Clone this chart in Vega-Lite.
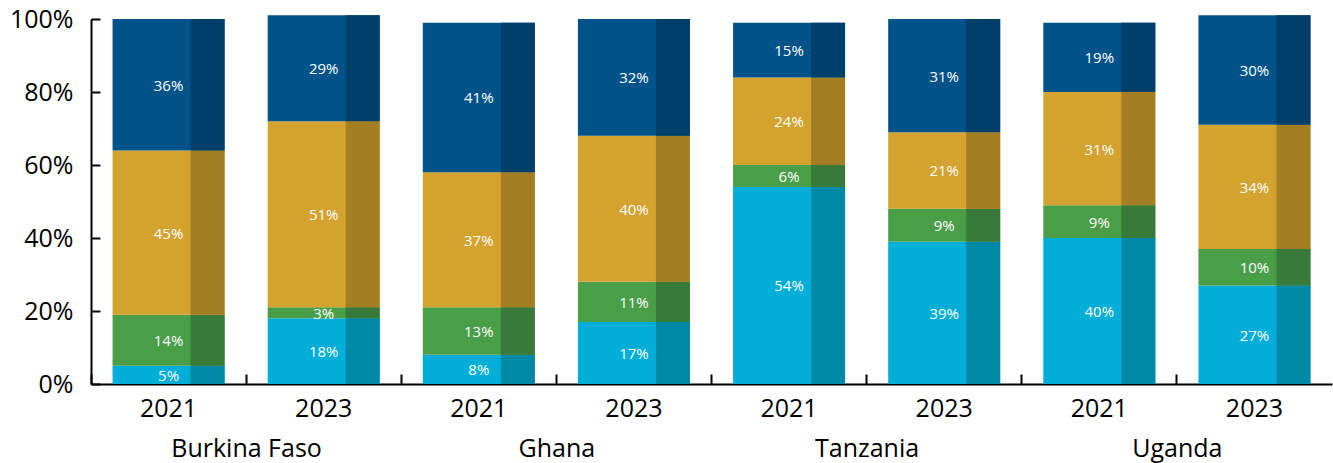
{
  "$schema": "https://vega.github.io/schema/vega-lite/v6.json",
  "width": 1333,
  "height": 463,
  "autosize": {"type": "fit", "contains": "padding"},
  "padding": {"left": 9, "right": 1, "top": 7, "bottom": 2},
  "background": "white",
  "config": {"view": {"stroke": null}, "font": "Open Sans"},
  "data": {
    "values": [
      {"country": "Burkina Faso", "year": "2021", "bar": "Burkina Faso 2021", "seg": "S1", "k": 1, "value": 0.05},
      {"country": "Burkina Faso", "year": "2021", "bar": "Burkina Faso 2021", "seg": "S2", "k": 2, "value": 0.14},
      {"country": "Burkina Faso", "year": "2021", "bar": "Burkina Faso 2021", "seg": "S3", "k": 3, "value": 0.45},
      {"country": "Burkina Faso", "year": "2021", "bar": "Burkina Faso 2021", "seg": "S4", "k": 4, "value": 0.36},
      {"country": "Burkina Faso", "year": "2023", "bar": "Burkina Faso 2023", "seg": "S1", "k": 1, "value": 0.18},
      {"country": "Burkina Faso", "year": "2023", "bar": "Burkina Faso 2023", "seg": "S2", "k": 2, "value": 0.03},
      {"country": "Burkina Faso", "year": "2023", "bar": "Burkina Faso 2023", "seg": "S3", "k": 3, "value": 0.51},
      {"country": "Burkina Faso", "year": "2023", "bar": "Burkina Faso 2023", "seg": "S4", "k": 4, "value": 0.29},
      {"country": "Ghana", "year": "2021", "bar": "Ghana 2021", "seg": "S1", "k": 1, "value": 0.08},
      {"country": "Ghana", "year": "2021", "bar": "Ghana 2021", "seg": "S2", "k": 2, "value": 0.13},
      {"country": "Ghana", "year": "2021", "bar": "Ghana 2021", "seg": "S3", "k": 3, "value": 0.37},
      {"country": "Ghana", "year": "2021", "bar": "Ghana 2021", "seg": "S4", "k": 4, "value": 0.41},
      {"country": "Ghana", "year": "2023", "bar": "Ghana 2023", "seg": "S1", "k": 1, "value": 0.17},
      {"country": "Ghana", "year": "2023", "bar": "Ghana 2023", "seg": "S2", "k": 2, "value": 0.11},
      {"country": "Ghana", "year": "2023", "bar": "Ghana 2023", "seg": "S3", "k": 3, "value": 0.40},
      {"country": "Ghana", "year": "2023", "bar": "Ghana 2023", "seg": "S4", "k": 4, "value": 0.32},
      {"country": "Tanzania", "year": "2021", "bar": "Tanzania 2021", "seg": "S1", "k": 1, "value": 0.54},
      {"country": "Tanzania", "year": "2021", "bar": "Tanzania 2021", "seg": "S2", "k": 2, "value": 0.06},
      {"country": "Tanzania", "year": "2021", "bar": "Tanzania 2021", "seg": "S3", "k": 3, "value": 0.24},
      {"country": "Tanzania", "year": "2021", "bar": "Tanzania 2021", "seg": "S4", "k": 4, "value": 0.15},
      {"country": "Tanzania", "year": "2023", "bar": "Tanzania 2023", "seg": "S1", "k": 1, "value": 0.39},
      {"country": "Tanzania", "year": "2023", "bar": "Tanzania 2023", "seg": "S2", "k": 2, "value": 0.09},
      {"country": "Tanzania", "year": "2023", "bar": "Tanzania 2023", "seg": "S3", "k": 3, "value": 0.21},
      {"country": "Tanzania", "year": "2023", "bar": "Tanzania 2023", "seg": "S4", "k": 4, "value": 0.31},
      {"country": "Uganda", "year": "2021", "bar": "Uganda 2021", "seg": "S1", "k": 1, "value": 0.40},
      {"country": "Uganda", "year": "2021", "bar": "Uganda 2021", "seg": "S2", "k": 2, "value": 0.09},
      {"country": "Uganda", "year": "2021", "bar": "Uganda 2021", "seg": "S3", "k": 3, "value": 0.31},
      {"country": "Uganda", "year": "2021", "bar": "Uganda 2021", "seg": "S4", "k": 4, "value": 0.19},
      {"country": "Uganda", "year": "2023", "bar": "Uganda 2023", "seg": "S1", "k": 1, "value": 0.27},
      {"country": "Uganda", "year": "2023", "bar": "Uganda 2023", "seg": "S2", "k": 2, "value": 0.10},
      {"country": "Uganda", "year": "2023", "bar": "Uganda 2023", "seg": "S3", "k": 3, "value": 0.34},
      {"country": "Uganda", "year": "2023", "bar": "Uganda 2023", "seg": "S4", "k": 4, "value": 0.30}
    ]
  },
  "transform": [
    {"stack": "value", "groupby": ["bar"], "sort": [{"field": "k", "order": "ascending"}], "as": ["v0", "v1"]},
    {"calculate": "(datum.v0 + datum.v1) / 2", "as": "mid"}
  ],
  "layer": [
    {
      "mark": {"type": "bar", "width": 112},
      "encoding": {
        "x": {
          "field": "bar", "type": "nominal",
          "sort": ["Burkina Faso 2021", "Burkina Faso 2023", "Ghana 2021", "Ghana 2023", "Tanzania 2021", "Tanzania 2023", "Uganda 2021", "Uganda 2023"],
          "scale": {"paddingInner": 0, "paddingOuter": 0},
          "axis": {
            "orient": "bottom", "title": null, "labelAngle": 0,
            "labelExpr": "substring(datum.label, length(datum.label) - 4)",
            "ticks": false, "domainColor": "black", "domainWidth": 2,
            "labelFontSize": 25, "labelColor": "black", "labelPadding": 12
          }
        },
        "y": {
          "field": "v0", "type": "quantitative",
          "scale": {"domain": [0, 1], "nice": false},
          "axis": {
            "orient": "left", "title": null, "format": ".0%", "values": [0, 0.2, 0.4, 0.6, 0.8, 1],
            "grid": false, "ticks": false,
            "domainColor": "black", "domainWidth": 2,
            "labelFontSize": 25, "labelColor": "black", "labelPadding": 18
          }
        },
        "y2": {"field": "v1"},
        "color": {
          "field": "seg", "type": "nominal", "legend": null,
          "scale": {"domain": ["S1", "S2", "S3", "S4"], "range": ["#00AED8", "#4A9E48", "#D4A22F", "#005389"]}
        }
      }
    },
    {
      "mark": {"type": "bar", "width": 34, "xOffset": 39},
      "encoding": {
        "x": {
          "field": "bar", "type": "nominal",
          "sort": ["Burkina Faso 2021", "Burkina Faso 2023", "Ghana 2021", "Ghana 2023", "Tanzania 2021", "Tanzania 2023", "Uganda 2021", "Uganda 2023"],
          "scale": {"paddingInner": 0, "paddingOuter": 0},
          "axis": null
        },
        "y": {"field": "v0", "type": "quantitative", "axis": null},
        "y2": {"field": "v1"},
        "color": {
          "field": "seg", "type": "nominal", "legend": null,
          "scale": {"domain": ["S1", "S2", "S3", "S4"], "range": ["#0088A7", "#387A3A", "#A47E23", "#003F69"]}
        }
      }
    },
    {
      "mark": {"type": "text", "color": "white", "fontSize": 15, "dy": 1},
      "encoding": {
        "x": {
          "field": "bar", "type": "nominal",
          "sort": ["Burkina Faso 2021", "Burkina Faso 2023", "Ghana 2021", "Ghana 2023", "Tanzania 2021", "Tanzania 2023", "Uganda 2021", "Uganda 2023"],
          "scale": {"paddingInner": 0, "paddingOuter": 0},
          "axis": null
        },
        "y": {"field": "mid", "type": "quantitative", "axis": null},
        "text": {"field": "value", "type": "quantitative", "format": ".0%"}
      }
    },
    {
      "mark": {"type": "rule", "opacity": 0},
      "encoding": {
        "x": {
          "field": "bar", "type": "nominal",
          "sort": ["Burkina Faso 2021", "Burkina Faso 2023", "Ghana 2021", "Ghana 2023", "Tanzania 2021", "Tanzania 2023", "Uganda 2021", "Uganda 2023"],
          "scale": {"paddingInner": 0, "paddingOuter": 0},
          "axis": {
            "orient": "bottom", "title": null, "labels": false, "domain": false,
            "bandPosition": 0, "offset": -10, "tickSize": 10, "tickWidth": 2, "tickColor": "black"
          }
        }
      }
    },
    {
      "mark": {"type": "rule", "opacity": 0},
      "encoding": {
        "y": {
          "field": "v0", "type": "quantitative",
          "axis": {
            "orient": "left", "title": null, "labels": false, "domain": false, "grid": false,
            "values": [0, 0.2, 0.4, 0.6, 0.8, 1],
            "offset": -9, "tickSize": 9, "tickWidth": 2, "tickColor": "black"
          }
        }
      }
    },
    {
      "mark": {"type": "rule", "opacity": 0},
      "encoding": {
        "x": {
          "field": "bar", "type": "nominal",
          "sort": ["Burkina Faso 2021", "Burkina Faso 2023", "Ghana 2021", "Ghana 2023", "Tanzania 2021", "Tanzania 2023", "Uganda 2021", "Uganda 2023"],
          "scale": {"paddingInner": 0, "paddingOuter": 0},
          "axis": {
            "orient": "bottom", "title": null, "domain": false, "ticks": false,
            "labelOffset": 78, "labelAngle": 0,
            "labelExpr": "indexof(datum.label, '2021') >= 0 ? substring(datum.label, 0, length(datum.label) - 5) : ''",
            "labelFontSize": 25, "labelColor": "black", "labelPadding": 52
          }
        }
      }
    }
  ],
  "resolve": {"scale": {"color": "independent"}, "axis": {"x": "independent", "y": "independent"}}
}
